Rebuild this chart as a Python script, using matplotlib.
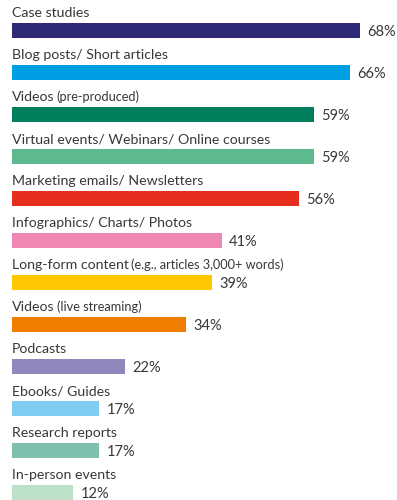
import matplotlib
matplotlib.use("Agg")
import matplotlib.pyplot as plt

categories = ["Case studies", "Blog posts/ Short articles", "Videos",
              "Virtual events/ Webinars/ Online courses", "Marketing emails/ Newsletters",
              "Infographics/ Charts/ Photos", "Long-form content", "Videos",
              "Podcasts", "Ebooks/ Guides", "Research reports", "In-person events"]
notes = ["", "", "(pre-produced)", "", "", "", "(e.g., articles 3,000+ words)",
         "(live streaming)", "", "", "", ""]
values = [68, 66, 59, 59, 56, 41, 39, 34, 22, 17, 17, 12]
colors = ["#2e2a78", "#009fe3", "#007f5f", "#5dba8f", "#e62d1e", "#ef87b5",
          "#ffc800", "#ef7d00", "#9088bd", "#7fcdf0", "#7fbfae", "#bde0c8"]

plt.rcParams['font.family'] = ['Lato', 'DejaVu Sans']
TXT = "#383838"

fig = plt.figure(figsize=(3.97, 5.0), dpi=100)
ax = fig.add_axes([0, 0, 1, 1])
ax.set_xlim(-12 / 5.12, (397 - 12) / 5.12)
ax.set_ylim((500 - 30.5) / 42, -30.5 / 42)
ax.axis('off')

ys = list(range(len(values)))
ax.barh(ys, values, height=15 / 42, color=colors, left=0)

for i, (cat, note, v) in enumerate(zip(categories, notes, values)):
    t = ax.text(0, i - 0.32, cat, fontsize=10.2, color=TXT, va='baseline', ha='left')
    if note:
        ax.annotate(note, xy=(1, i - 0.32), xycoords=(t, 'data'),
                    xytext=(1.5, 0), textcoords='offset points',
                    fontsize=9.2, color=TXT, va='baseline', ha='left')
    ax.annotate(f"{v}%", xy=(v, i + 0.13), xycoords='data',
                xytext=(5.3, 0), textcoords='offset points',
                fontsize=10.5, color=TXT, va='baseline', ha='left')

fig.savefig("out.png", dpi=100)
